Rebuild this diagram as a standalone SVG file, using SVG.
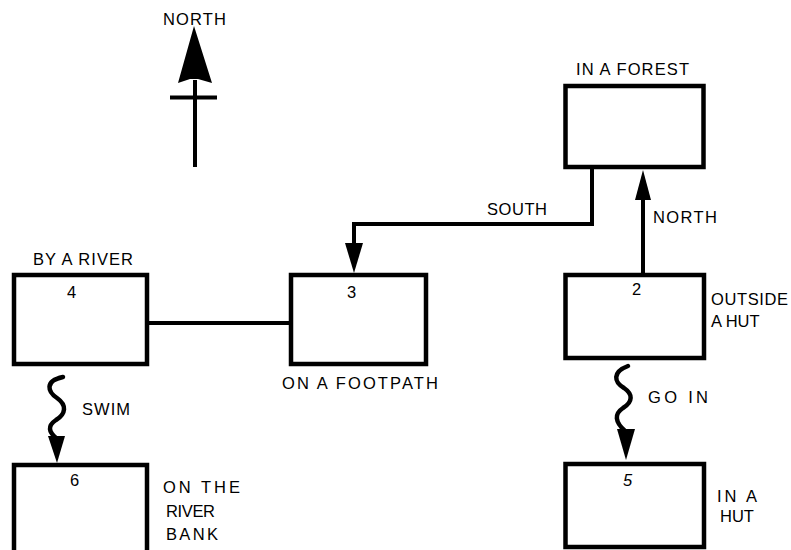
<svg xmlns="http://www.w3.org/2000/svg" width="791" height="550" viewBox="0 0 791 550">
<style>
text{font-family:"Liberation Sans",Arial,sans-serif;font-size:16.5px;fill:#000}
.box{fill:#fff;stroke:#000;stroke-width:4.5}
.ln{fill:none;stroke:#000;stroke-width:4}
.wv{fill:none;stroke:#000;stroke-width:4.5;stroke-linecap:round}
.hd{fill:#000}
</style>
<rect width="791" height="550" fill="#fff"/>
<g id="compass">
<text x="163" y="25" textLength="63" lengthAdjust="spacing">NORTH</text>
<polygon class="hd" points="194,26 178,83 190,79 198,79 212,83"/>
<line class="ln" x1="195" y1="80" x2="195" y2="167" stroke-width="4.5"/>
<line class="ln" x1="170" y1="97.5" x2="217" y2="97.5" stroke-width="4.5"/>
</g>
<g id="connectors">
<path class="ln" d="M592 169 V224 H354 V246"/>
<polygon class="hd" points="345,243 363,243 354,273"/>
<line class="ln" x1="643" y1="273" x2="643" y2="196"/>
<polygon class="hd" points="635,200 651,200 643,170"/>
<line class="ln" x1="149" y1="323" x2="289" y2="323" stroke-width="3.5"/>
<path class="wv" d="M63 377 C44 381,48 392,57 398 C67 405,66 414,56 420 C47 426,49 432,56 438"/>
<polygon class="hd" points="48,436 65,436 57,463"/>
<path class="wv" d="M628 366 C612 372,614 382,624 388 C633 394,633 402,623 408 C614 414,615 422,625 431"/>
<polygon class="hd" points="617,429 635,429 626,460"/>
<text x="487" y="215" textLength="60" lengthAdjust="spacing">SOUTH</text>
<text x="653" y="223" textLength="64" lengthAdjust="spacing">NORTH</text>
<text x="82" y="415" textLength="48" lengthAdjust="spacing">SWIM</text>
<text x="648" y="403" textLength="60" lengthAdjust="spacing">GO IN</text>
</g>
<g id="node-forest">
<rect class="box" x="565.5" y="86" width="138" height="81"/>
<text x="576" y="75" textLength="113" lengthAdjust="spacing">IN A FOREST</text>
</g>
<g id="node-4">
<rect class="box" x="14" y="275" width="133" height="89"/>
<text x="67" y="298">4</text>
<text x="33" y="265" textLength="100" lengthAdjust="spacing">BY A RIVER</text>
</g>
<g id="node-3">
<rect class="box" x="291" y="275" width="135" height="89"/>
<text x="347" y="298">3</text>
<text x="282" y="389" textLength="156" lengthAdjust="spacing">ON A FOOTPATH</text>
</g>
<g id="node-2">
<rect class="box" x="565.5" y="275" width="138.5" height="83"/>
<text x="632" y="295">2</text>
<text x="711" y="305" textLength="77" lengthAdjust="spacing">OUTSIDE</text>
<text x="711" y="327">A HUT</text>
</g>
<g id="node-6">
<rect class="box" x="14" y="465" width="133" height="100"/>
<text x="70" y="486">6</text>
<text x="163" y="493" textLength="77" lengthAdjust="spacing">ON  THE</text>
<text x="166" y="517" textLength="49" lengthAdjust="spacing">RIVER</text>
<text x="166" y="540" textLength="52" lengthAdjust="spacing">BANK</text>
</g>
<g id="node-5">
<rect class="box" x="565.5" y="464" width="138.5" height="83"/>
<text x="623" y="486" font-style="italic">5</text>
<text x="717" y="502" textLength="40" lengthAdjust="spacing">IN A</text>
<text x="720" y="522">HUT</text>
</g>
</svg>
